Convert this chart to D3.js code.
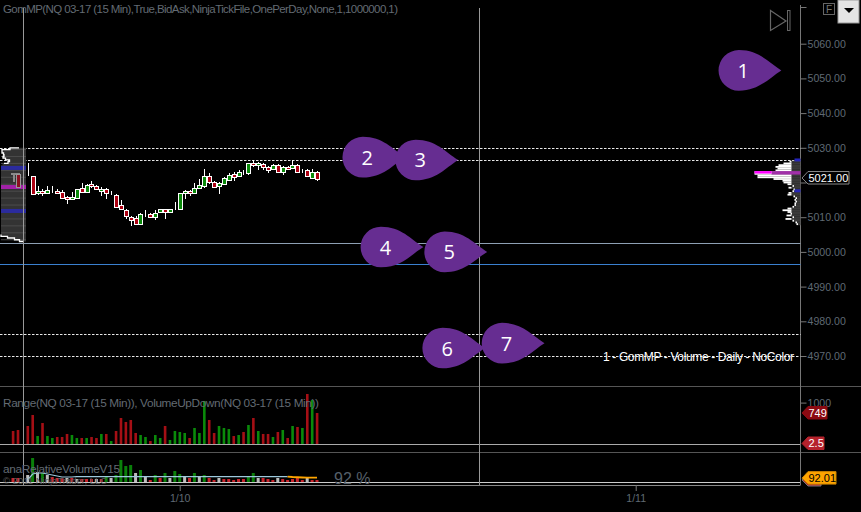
<!DOCTYPE html>
<html>
<head>
<meta charset="utf-8">
<script src="https://cdn.jsdelivr.net/npm/d3@7"></script>
<style>
    body { margin: 0; background: #000; }
    text { font-family: "Liberation Sans", Arial, sans-serif; }
    .axis text { fill: #5f6973; font-size: 10.6px; }
    .axis line { stroke: #777; }
    .axis path { display: none; }
</style>
</head>
<body>
<div id="chart"></div>
<script>
// open, high, low, close per 15 min bar, first bar is number 3
var firstCandleBar = 3
var opens = [5022.25,5022,5017,5017.5,5017,5017.75,5017.5,5017.25,5015.75,5015.25,5015.75,5018.5,5017.25,5019.5,5019,5017.75,5018.25,5017,5016.5,5013.5,5012,5010,5009.75,5008,5011,5011,5010,5011.5,5012.25,5011.5,5012.5,5012.5,5017,5017.5,5017,5018.5,5019.25,5022,5020.25,5019,5019.5,5020.75,5022.5,5021.75,5023,5022.75,5025.5,5025,5025.25,5024.5,5023.75,5025,5023,5024.5,5024,5025,5023.5,5023.5,5021.25,5023]
var highs = [5025.5,5022,5019,5018,5019,5019,5018.25,5017.75,5016,5017.25,5018.25,5019.75,5019.5,5020.5,5019.25,5018.75,5018.5,5017.5,5016.75,5015,5012.25,5010.25,5010.25,5011.25,5012,5011.25,5012,5012.5,5012.5,5012.5,5014.25,5017,5017.75,5017.75,5019.75,5021,5024,5022.75,5020.5,5020.25,5021.5,5022.75,5023,5023.5,5023.5,5025.75,5026.5,5026,5025.5,5024.75,5025.25,5025.25,5024.75,5024.75,5026.5,5025.25,5024,5024,5024,5023.25]
var lows = [5022,5016.5,5016.5,5016,5016.75,5017,5017,5015.5,5013.75,5015,5015.5,5017,5017.25,5018.5,5017.75,5016,5015.25,5016.5,5012.75,5012,5009.5,5007.5,5008,5008,5010,5010,5009.25,5011.25,5009.5,5011.25,5012,5012.25,5015.25,5016,5016.75,5018.25,5018.5,5019.5,5018.5,5016.75,5019.25,5020.5,5020.5,5021.5,5022.25,5022.25,5024.5,5023.5,5023.5,5022.75,5023.5,5022.75,5022.25,5023.75,5023.75,5022.75,5022.75,5021.5,5021,5020.5]
var closes = [5022.25,5016.75,5017.5,5017,5017.75,5017.75,5017,5015.5,5015.25,5015.75,5018.25,5017.25,5019.25,5019,5018,5018.25,5017,5017,5013,5012.25,5010.25,5009.25,5008,5011,5011,5010.25,5011.25,5012.25,5011.5,5012.25,5012.5,5017,5017.5,5017,5018.5,5019.25,5022,5020.25,5018.75,5019.75,5021.25,5022.25,5021.75,5023,5023,5025.5,5025,5025.5,5024.5,5023.75,5025,5023,5024.5,5024,5025,5023,5023.5,5021.75,5023,5021]

var volumes = [314,338,0,435,701,193,507,193,145,169,169,242,217,145,145,145,169,145,242,242,72,314,628,532,580,266,217,169,72,217,145,435,97,314,290,266,145,387,266,1039,580,266,435,387,362,193,217,290,459,628,314,242,242,169,290,338,145,435,411,387,1208,1063,749]
var volumeSides = 'd d d d d u d u u d d d u u d u d d u d u d d d d d u u d u u d u u u u d u u u d d u u u d u d u d u d d u d u d u d u d u d'.split(' ')

var relVolumes = [84,84,0,147,504,210,189,147,105,84,84,84,84,63,63,63,63,63,63,126,84,147,462,336,357,189,252,126,42,147,84,189,84,231,168,105,84,189,105,147,84,42,84,63,63,42,63,63,126,189,84,84,63,42,84,63,42,63,84,42,105,42,42]
var relSides = 'd d n f u f u f d d d f d f d d d f d u f u u u u f u f d u d u f u u f d u f u d d f d d d d d u u f d d d f d d d d d f d d'.split(' ')
var relAverage = [42,168,189,189,168,147,126,105,105,105,115,115,115,115,115,115,115,115,115,115,115,115,115,115,115,115,115,115,115,115,115,115,115,115,115,115,115,115,115,115,115,115,115,115,115,115,115,115,115,115,115,115,115,115]
var relAverageEnd = [115,105,100,95,92,92,92]

var priceTicks = [5060,5050,5040,5030,5020,5010,5000,4990,4980,4970]
var coveredTick = 5020
var dateTicks = [34,127]
var dateLabels = ['1/10','1/11']
var crossBars = [2,95]

var dashedLevels = [5030,5026.5,4976.4,4970.1]
var greyLevel = 5002.5
var blueLevel = 4996.5

var profileLeftTop = 5030
var profileLeft = [7,25,23,25,20,24,22,19,14,22,25,25,25,25,25,25,25,25,25,25,25,25,25,25,25,25,25,25,25,25,25,25,25,25,25,25,25,25,25,25,25,25,25,25,25,25,25,25,25,25,25,25,12,11,2]
var profileRightTop = 5026.5
var profileRight = [4,11,17,22,25,23,25,46,46,43,43,27,18,17,13,8,12,7,8,12,13,7,5,6,5,6,6,8,13,18,13,10,14,8,15,8,5,4]
var bandBlue = [5024.2,5011.8]
var bandMagenta = 5018.7
var rightBandBlue = [5026.5,5017.6]

var markerNames = ['1','2','3','4','5','6','7']
var markerPrices = [5052.3,5027.3,5026.5,5001.4,5000,4972.3,4973.7]
var markerBars = [156.7,80,90.8,83.7,96.7,96.3,108.4]

var width = 861
var height = 512
var axisX = 800.5
var profileCore = 9

var svg = d3.select('#chart')
    .append('svg')
    .attr('width', width)
    .attr('height', height)
    .style('display', 'block')
    .style('background', '#000')

var xScale = d3.scaleLinear().domain([0, 62]).range([13, 317])
var yScale = d3.scaleLinear().domain([4970, 5060]).range([356, 43.7])
var volScale = d3.scaleLinear().domain([0, 1000]).range([444, 402.6])
var relScale = d3.scaleLinear().domain([0, 100]).range([482, 477.24])
var sideColors = { u: '#0a8a0a', d: '#a50f15', f: '#bdbdbd', n: '#000' }
var relColors = { u: '#0a7f0a', d: '#c8242c', f: '#bdbdbd', n: '#000' }
var rowStep = 0.5
var rowHeight = Math.abs(yScale(0.5) - yScale(0))

// panel frame
function hLine(y, x2, color) {
    svg.append('line')
        .attr('x1', 0).attr('x2', x2)
        .attr('y1', y).attr('y2', y)
        .attr('stroke', color)
}
hLine(386.5, width, '#555')
hLine(452.5, width, '#555')
hLine(444.5, axisX, '#aaa')
hLine(482.5, axisX, '#ccc')
hLine(485.5, axisX, '#888')

svg.append('line')
    .attr('x1', axisX).attr('x2', axisX)
    .attr('y1', 5).attr('y2', 485)
    .attr('stroke', '#777')

// price levels
dashedLevels.forEach(function (d) {
    svg.append('line')
        .attr('x1', 0).attr('x2', axisX)
        .attr('y1', Math.round(yScale(d)) + 0.5).attr('y2', Math.round(yScale(d)) + 0.5)
        .attr('stroke', '#e8e8e8')
        .attr('stroke-dasharray', '2.5,1.5')
})
hLine(Math.round(yScale(greyLevel)) + 0.5, axisX, '#8d9fb3')
hLine(Math.round(yScale(blueLevel)) + 0.5, axisX, '#3a80d0')

// left volume profile
var leftArea = d3.area()
    .x0(26)
    .x1((d) => 26 - d)
    .y((d, i) => yScale(profileLeftTop - i * rowStep))
    .curve(d3.curveStep)

function leftEdge(from, to) {
    return d3.line()
        .x((d) => 26 - d)
        .y((d, i) => yScale(profileLeftTop - (i + from) * rowStep))
        .curve(d3.curveStep)(profileLeft.slice(from, to))
}

svg.append('path').attr('d', leftArea(profileLeft)).attr('fill', '#333')

svg.selectAll('.leftrow')
    .data(profileLeft.filter((d, i) => i % 4 == 1))
    .enter()
    .append('line')
    .attr('x1', 1).attr('x2', 26)
    .attr('y1', (d, i) => yScale(profileLeftTop - (i * 4 + 1) * rowStep))
    .attr('y2', (d, i) => yScale(profileLeftTop - (i * 4 + 1) * rowStep))
    .attr('stroke', '#4c4c4c')

svg.append('path')
    .attr('d', leftEdge(0, 10))
    .attr('fill', 'none').attr('stroke', '#fff').attr('stroke-width', 1.3)

svg.append('path')
    .attr('d', leftEdge(50, 55))
    .attr('fill', 'none').attr('stroke', '#fff').attr('stroke-width', 1.3)

bandBlue.forEach(function (d) {
    svg.append('rect')
        .attr('x', 1).attr('width', 25)
        .attr('y', yScale(d) - 2).attr('height', 4)
        .attr('fill', '#2b2b9e')
})
svg.append('rect')
    .attr('x', 1).attr('width', 25)
    .attr('y', yScale(bandMagenta) - 2).attr('height', 4)
    .attr('fill', '#a222a8')

// small tool glyph on the profile
svg.append('path')
    .attr('d', 'M11,173h9v2h-5v7h-2v-7h-2z')
    .attr('fill', '#8a8a8a')
svg.append('rect')
    .attr('x', 16.5).attr('y', 174.5).attr('width', 4).attr('height', 13)
    .attr('fill', '#8a1020').attr('stroke', '#999')

// right volume profile: dark core next to the axis, white rows beyond it
svg.selectAll('.rightcore')
    .data(profileRight)
    .enter()
    .append('rect')
    .attr('x', (d) => axisX - Math.min(d, profileCore))
    .attr('y', (d, i) => yScale(profileRightTop - i * rowStep) - rowHeight / 2)
    .attr('width', (d) => Math.min(d, profileCore))
    .attr('height', rowHeight + 0.2)
    .attr('fill', '#3a3a3a')

svg.selectAll('.rightrow')
    .data(profileRight)
    .enter()
    .append('rect')
    .attr('x', (d) => axisX - d)
    .attr('y', (d, i) => yScale(profileRightTop - i * rowStep) - 0.9)
    .attr('width', (d) => Math.max(d - profileCore, 1.5))
    .attr('height', 1.8)
    .attr('fill', '#fff')

var pocRow = profileRight.indexOf(d3.max(profileRight))
svg.append('rect')
    .attr('x', axisX - profileRight[pocRow] + 17).attr('width', profileRight[pocRow] - 17)
    .attr('y', yScale(profileRightTop - pocRow * rowStep) - 1).attr('height', 3.5)
    .attr('fill', '#a030a8')
svg.append('rect')
    .attr('x', axisX - profileRight[pocRow]).attr('width', 17)
    .attr('y', yScale(profileRightTop - pocRow * rowStep) - 1).attr('height', 2.5)
    .attr('fill', '#ff00ff')

rightBandBlue.forEach(function (d) {
    svg.append('rect')
        .attr('x', axisX - 6).attr('width', 6)
        .attr('y', yScale(d) - 1.5).attr('height', 3)
        .attr('fill', '#2525b8')
})

// candles
var bars = opens.map(function (d, i) {
    return { bar: i + firstCandleBar, o: d, h: highs[i], l: lows[i], c: closes[i] }
})

var candles = svg.selectAll('.candle')
    .data(bars)
    .enter()
    .append('g')
    .attr('class', 'candle')
    .style('shape-rendering', 'crispEdges')

candles.append('line')
    .attr('x1', (d) => Math.round(xScale(d.bar)) + 0.5)
    .attr('x2', (d) => Math.round(xScale(d.bar)) + 0.5)
    .attr('y1', (d) => yScale(d.h))
    .attr('y2', (d) => yScale(d.l))
    .attr('stroke', '#fff')

candles.append('rect')
    .attr('x', (d) => Math.round(xScale(d.bar)) - 1.5)
    .attr('width', 4)
    .attr('y', (d) => Math.round(yScale(Math.max(d.o, d.c))) + 0.5)
    .attr('height', (d) => Math.round(Math.abs(yScale(d.o) - yScale(d.c))))
    .attr('fill', (d) => d.c > d.o ? '#0a8a0a' : '#ac0012')
    .attr('stroke', '#fff')

// volume
svg.selectAll('.vol')
    .data(volumes)
    .enter()
    .append('rect')
    .attr('class', 'vol')
    .attr('x', (d, i) => xScale(i) - 1.2)
    .attr('width', 2.6)
    .attr('y', (d) => volScale(d))
    .attr('height', (d) => volScale(0) - volScale(d))
    .attr('fill', (d, i) => sideColors[volumeSides[i]])

// relative volume
svg.selectAll('.rel')
    .data(relVolumes)
    .enter()
    .append('rect')
    .attr('class', 'rel')
    .attr('x', (d, i) => xScale(i) - 1.5)
    .attr('width', 3)
    .attr('y', (d) => relScale(d))
    .attr('height', (d) => relScale(0) - relScale(d))
    .attr('fill', (d, i) => relColors[relSides[i]])

var avgLine = d3.line()
    .x((d) => xScale(d.bar))
    .y((d) => relScale(d.v))

svg.append('path')
    .attr('d', avgLine(relAverage.map((d, i) => ({ bar: i + 3, v: d }))))
    .attr('fill', 'none').attr('stroke', '#9cc8dc').attr('stroke-width', 1.2)

svg.append('path')
    .attr('d', avgLine(relAverageEnd.map((d, i) => ({ bar: i + 56, v: d }))))
    .attr('fill', 'none').attr('stroke', '#ffa500').attr('stroke-width', 1.8)

// crosshairs
crossBars.forEach(function (d) {
    svg.append('line')
        .attr('x1', Math.round(xScale(d)) + 0.5).attr('x2', Math.round(xScale(d)) + 0.5)
        .attr('y1', 8).attr('y2', 485)
        .attr('stroke', '#999')
})

// axes
svg.append('g')
    .attr('class', 'axis')
    .attr('transform', 'translate(' + axisX + ',0)')
    .call(d3.axisRight(yScale).tickValues(priceTicks)
        .tickFormat((d) => d == coveredTick ? '' : d3.format('.2f')(d))
        .tickSize(6).tickPadding(1))

svg.append('g')
    .attr('class', 'axis')
    .attr('transform', 'translate(' + axisX + ',0)')
    .call(d3.axisRight(volScale).tickValues([1000]).tickFormat(d3.format('d')).tickSize(6).tickPadding(1))

svg.append('line')
    .attr('x1', axisX).attr('x2', axisX + 6)
    .attr('y1', 7.5).attr('y2', 7.5)
    .attr('stroke', '#777')

svg.append('g')
    .attr('class', 'axis')
    .attr('transform', 'translate(0,485)')
    .call(d3.axisBottom(xScale).tickValues(dateTicks).tickFormat((d, i) => dateLabels[i]).tickSize(6).tickPadding(3))

// value tags on the axis
function tag(y, w, fill, stroke, label, labelColor) {
    var x = 802
    var g = svg.append('g')
    g.append('path')
        .attr('d', 'M' + x + ',' + y + 'l6,-6.5h' + w + 'v12.5h-' + w + 'z')
        .attr('fill', fill)
        .attr('stroke', stroke)
    if (label) {
        g.append('text')
            .attr('x', x + 6.5)
            .attr('y', y + 3.8)
            .attr('font-size', 11)
            .attr('fill', labelColor)
            .text(label)
    }
}
tag(yScale(closes[closes.length - 1]) - 1, 41, '#000', '#888', d3.format('.2f')(closes[closes.length - 1]), '#fff')
tag(volScale(volumes[volumes.length - 1]), 19, '#8b0a12', '#8b0a12', volumes[volumes.length - 1], '#fff')
tag(443.5, 16, '#b5222c', '#b5222c', '2.5', '#fff')
tag(relScale(relVolumes[relVolumes.length - 1]), 13, '#b5222c', '#777', '', '#fff')
tag(relScale(relAverageEnd[relAverageEnd.length - 1]) + 0.5, 28, '#ffa500', '#c98200', '92.01', '#000')

// markers
var r = 20.3
function dropPath(len) {
    return 'M' + (-r) + ',0A' + r + ',' + r + ' 0 0 1 0,' + (-r) +
        'C' + (r * 1.0) + ',' + (-r) + ' ' + (r * 1.45) + ',' + (-r * 0.4) + ' ' + len + ',0' +
        'C' + (r * 1.45) + ',' + (r * 0.4) + ' ' + (r * 1.0) + ',' + r + ' 0,' + r +
        'A' + r + ',' + r + ' 0 0 1 ' + (-r) + ',0Z'
}

var markers = svg.selectAll('.marker')
    .data(markerNames)
    .enter()
    .append('g')
    .attr('class', 'marker')
    .attr('transform', (d, i) => 'translate(' + (xScale(markerBars[i]) - 42.5) + ',' + yScale(markerPrices[i]) + ')')

markers.append('path')
    .attr('d', dropPath(42.5))
    .attr('fill', '#662d91')

markers.append('text')
    .attr('x', 4.5)
    .attr('y', 7.5)
    .attr('text-anchor', 'middle')
    .attr('font-size', 20)
    .attr('fill', '#fff')
    .style('font-family', '"Open Sans", sans-serif')
    .text((d) => d)

// replay button and chart buttons
svg.append('path')
    .attr('d', 'M770.5,10.5L786,21L770.5,30.5Z')
    .attr('fill', 'none').attr('stroke', '#666').attr('stroke-width', 1.2)
svg.append('rect')
    .attr('x', 787.5).attr('y', 10.5).attr('width', 2.5).attr('height', 20)
    .attr('fill', 'none').attr('stroke', '#666')

svg.append('rect')
    .attr('x', 823.5).attr('y', 3.5).attr('width', 11).attr('height', 11)
    .attr('fill', '#000').attr('stroke', '#666')
svg.append('text')
    .attr('x', 829).attr('y', 12.5)
    .attr('text-anchor', 'middle')
    .attr('font-size', 10)
    .attr('fill', '#777')
    .text('F')

svg.append('rect')
    .attr('x', 838).attr('y', 0).attr('width', 21).attr('height', 23)
    .attr('fill', '#e4e4e4').attr('stroke', '#999')
svg.append('path')
    .attr('d', 'M844,8h10l-5,5z')
    .attr('fill', '#000')

// titles
function label(x, y, size, color, str, len) {
    var t = svg.append('text')
        .attr('x', x).attr('y', y)
        .attr('font-size', size)
        .attr('fill', color)
        .text(str)
    if (len) t.attr('textLength', len)
}
label(3, 13, 11.5, '#636b73', 'GomMP(NQ 03-17 (15 Min),True,BidAsk,NinjaTickFile,OnePerDay,None,1,1000000,1)', 395)
label(3, 407, 11.8, '#636b73', 'Range(NQ 03-17 (15 Min)), VolumeUpDown(NQ 03-17 (15 Min))', 316)
label(3, 472.5, 11.8, '#636b73', 'anaRelativeVolumeV15', 117)
label(3, 484, 9.5, '#5a5a5a', '© 2011 NinjaTrader, LLC')
label(334, 484, 16, '#555f69', '92 %')
label(603, 361, 12, '#fff', '1 - GomMP - Volume - Daily - NoColor', 191)
</script>
</body>
</html>
